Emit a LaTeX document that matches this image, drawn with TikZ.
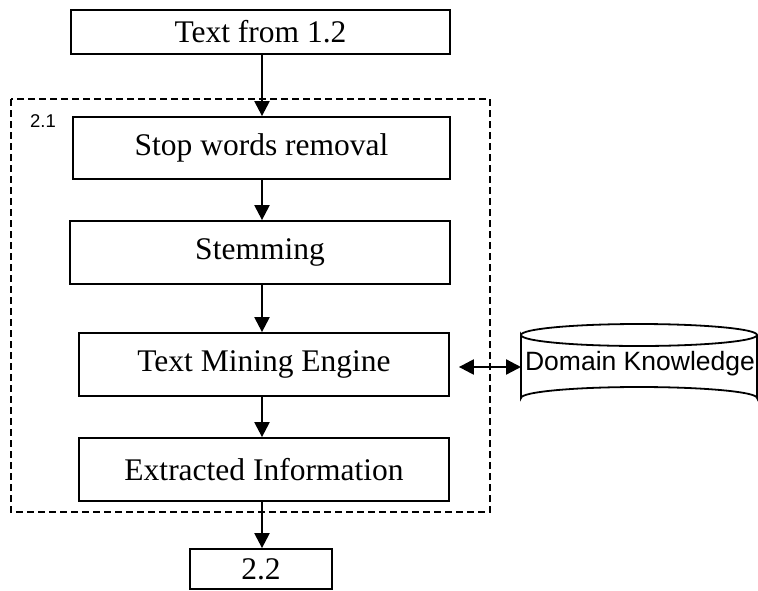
\documentclass[tikz,border=0pt]{standalone}
\usepackage{fontspec}
\setmainfont{Liberation Serif}
\setsansfont{Liberation Sans}
\usetikzlibrary{arrows.meta}

\tikzset{
  stage/.style={draw, line width=1.8pt, rectangle, inner sep=0pt,
    font=\fontsize{31.5}{36}\selectfont},
  tip/.style={Triangle[length=15pt,width=15pt]},
  flow/.style={line width=2.3pt, -{Triangle[length=15pt,width=15pt]}},
  link/.style={line width=2.3pt, {Triangle[length=15pt,width=15pt]}-{Triangle[length=15pt,width=15pt]}},
  module/.style={line width=1.6pt, dash pattern=on 7pt off 4pt},
}

\begin{document}
\begin{tikzpicture}[x=1pt, y=-1pt]
  \useasboundingbox (0,0) rectangle (758,590);

  % processing module 2.1
  \draw[module] (11,99) rectangle (490,512);
  \node[anchor=base west, inner sep=0pt, font=\sffamily\fontsize{18.5}{22}\selectfont]
    (modlabel) at (30,127) {2.1};

  % stages
  \node[stage, minimum width=379pt, minimum height=44pt] (src)  at (260.5,32)  {Text from 1.2};
  \node[stage, minimum width=377pt, minimum height=62pt] (stop) at (261.5,148) {Stop words removal};
  \node[stage, minimum width=380pt, minimum height=63pt] (stem) at (260,252.5) {Stemming};
  \node[stage, minimum width=370pt, minimum height=63pt] (tme)  at (264,364.5) {Text Mining Engine};
  \node[stage, minimum width=370pt, minimum height=63pt] (ext)  at (264,469.5) {Extracted Information};
  \node[stage, minimum width=142pt, minimum height=40pt] (out)  at (261,569)   {2.2};

  % knowledge store
  \coordinate (dbw) at (521,367);
  \draw[line width=1.8pt]
    (521,335) arc[start angle=180, end angle=360, x radius=118, y radius=11]
    arc[start angle=0, end angle=180, x radius=118, y radius=11]
    -- (521,398) arc[start angle=180, end angle=0, x radius=118, y radius=-11]
    -- (757,335);
  \node[anchor=base, inner sep=0pt, font=\sffamily\fontsize{26.5}{30}\selectfont]
    (dk) at (640,370) {Domain Knowledge};

  % connectors
  \coordinate (spine) at (262,0);
  \draw[flow] (src.south -| spine)  -- (stop.north -| spine);
  \draw[flow] (stop.south -| spine) -- (stem.north -| spine);
  \draw[flow] (stem.south -| spine) -- (tme.north -| spine);
  \draw[flow] (tme.south -| spine)  -- (ext.north -| spine);
  \draw[flow] (ext.south -| spine)  -- (out.north -| spine);
  \draw[link] ([xshift=9pt]tme.east |- dbw) -- (dbw);
\end{tikzpicture}
\end{document}
